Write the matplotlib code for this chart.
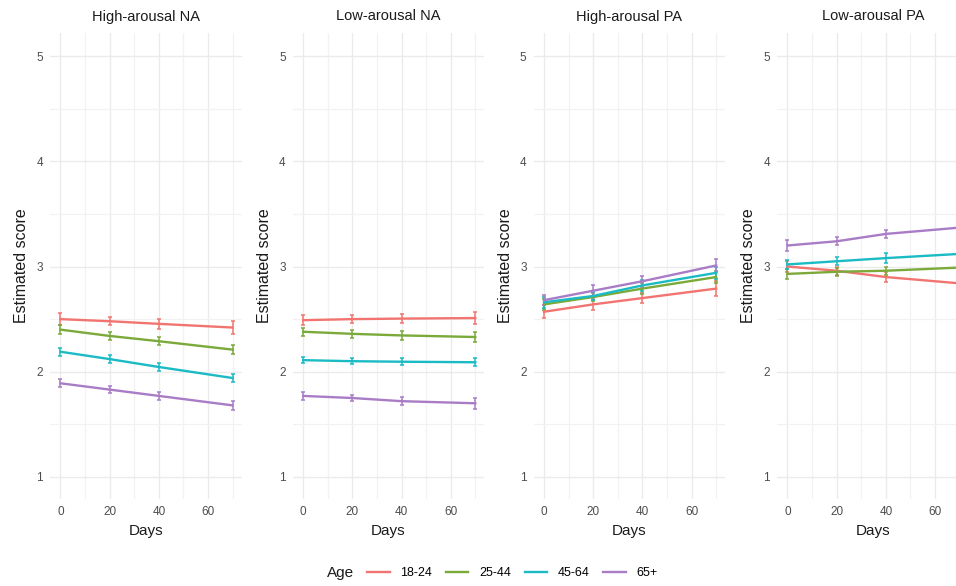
import numpy as np
import matplotlib
matplotlib.use('Agg')
from matplotlib import pyplot as plt
from matplotlib.lines import Line2D

plt.rcParams['font.family'] = ['Liberation Sans', 'DejaVu Sans']

#------------------------------------------------------------------
#-------------------- Dados ---------------------------------------
#------------------------------------------------------------------
dias = [0, 20, 40, 70]
grupos = ['18-24', '25-44', '45-64', '65+']
cores = ['#F27470', '#7BAA3A', '#1ABBC4', '#A97CC6']
titulos = ['High-arousal NA', 'Low-arousal NA', 'High-arousal PA', 'Low-arousal PA']

alto_na = [[2.50, 2.48, 2.455, 2.42],
           [2.40, 2.34, 2.29, 2.21],
           [2.19, 2.12, 2.045, 1.94],
           [1.89, 1.83, 1.77, 1.68]]
baixo_na = [[2.49, 2.50, 2.505, 2.51],
            [2.38, 2.36, 2.345, 2.33],
            [2.11, 2.10, 2.095, 2.09],
            [1.77, 1.75, 1.72, 1.70]]
alto_pa = [[2.57, 2.64, 2.70, 2.79],
           [2.64, 2.71, 2.79, 2.90],
           [2.66, 2.72, 2.82, 2.94],
           [2.68, 2.77, 2.86, 3.01]]
baixo_pa = [[3.00, 2.96, 2.90, 2.84],
            [2.93, 2.95, 2.96, 2.99],
            [3.02, 3.05, 3.08, 3.12],
            [3.20, 3.24, 3.31, 3.37]]

erro_alto_na = [[0.06, 0.04, 0.05, 0.06],
                [0.04, 0.035, 0.04, 0.045],
                [0.04, 0.035, 0.035, 0.04],
                [0.04, 0.03, 0.035, 0.045]]
erro_baixo_na = [[0.045, 0.04, 0.045, 0.06],
                 [0.04, 0.035, 0.04, 0.05],
                 [0.03, 0.03, 0.035, 0.04],
                 [0.04, 0.03, 0.04, 0.05]]
erro_alto_pa = [[0.06, 0.05, 0.05, 0.07],
                [0.05, 0.04, 0.05, 0.06],
                [0.05, 0.04, 0.05, 0.06],
                [0.05, 0.05, 0.05, 0.06]]
erro_baixo_pa = [[0.05, 0.04, 0.05, 0.06],
                 [0.05, 0.04, 0.04, 0.05],
                 [0.04, 0.04, 0.045, 0.05],
                 [0.05, 0.04, 0.04, 0.05]]

paineis = [alto_na, baixo_na, alto_pa, baixo_pa]
erros = [erro_alto_na, erro_baixo_na, erro_alto_pa, erro_baixo_pa]

#------------------------------------------------------------------
#-------------------- Gráfico -------------------------------------
#------------------------------------------------------------------
L, A = 956, 586
fig = plt.figure(figsize=(L / 100, A / 100), dpi=100)
esquerdas = [50, 292.7, 533.5, 777]
largura = 191.7
topo, base = 33, 499

for i in range(4):
    ax = fig.add_axes([esquerdas[i] / L, (A - base) / A, largura / L, (base - topo) / A])
    for j in range(4):
        ax.errorbar(dias, paineis[i][j], yerr=erros[i][j], color=cores[j],
                    lw=1.7, elinewidth=1.1, capsize=1.5, capthick=1.1, zorder=3)
    ax.set_xlim(-4.27, 73.7)
    ax.set_ylim(0.79, 5.22)
    ax.set_xticks([0, 20, 40, 60])
    ax.set_xticks([10, 30, 50, 70], minor=True)
    ax.set_yticks([1, 2, 3, 4, 5])
    ax.set_yticks([1.5, 2.5, 3.5, 4.5], minor=True)
    ax.grid(which='major', color='#EBEBEB', lw=1.0)
    ax.grid(which='minor', color='#F2F2F2', lw=0.9)
    ax.set_axisbelow(True)
    for s in ax.spines.values():
        s.set_visible(False)
    ax.tick_params(which='both', length=0, labelsize=8.5, labelcolor='#4D4D4D', pad=5)
    ax.set_title(titulos[i], fontsize=10.5, color='#1A1A1A', pad=9)
    ax.set_xlabel('Days', fontsize=11, color='#1A1A1A', labelpad=4)
    ax.set_ylabel('Estimated score', fontsize=11.5, color='#1A1A1A', labelpad=5)

handles = [Line2D([0], [0], color=c, lw=1.7) for c in cores]
fig.legend(handles, grupos, loc='center', bbox_to_anchor=(0.536, 0.022), ncol=4,
           frameon=False, fontsize=9, handlelength=1.8, columnspacing=1.1, handletextpad=0.85)
fig.text(341 / L, 0.022, 'Age', fontsize=11, color='#1A1A1A', ha='center', va='center')

fig.savefig('out.png', dpi=100, facecolor='white')
